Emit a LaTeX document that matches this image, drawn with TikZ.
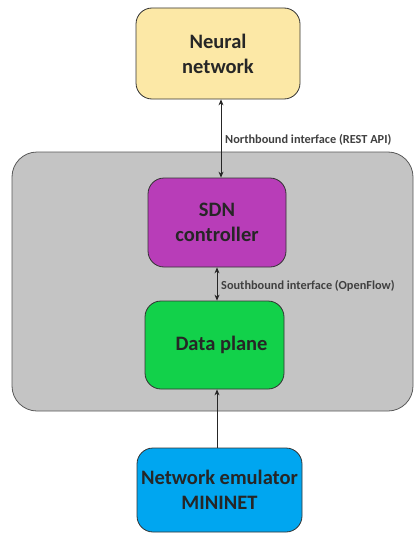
\documentclass[tikz,border=0pt]{standalone}
\usepackage{fontspec}
\setmainfont{Carlito}
\usetikzlibrary{arrows.meta}

\definecolor{nnyellow}{HTML}{FCE8A6}
\definecolor{sdnpurple}{HTML}{B83DB8}
\definecolor{dpgreen}{HTML}{12D14A}
\definecolor{emublue}{HTML}{00A6F0}
\definecolor{boxgray}{HTML}{C4C4C4}
\definecolor{edgegray}{HTML}{595959}

\begin{document}
\begin{tikzpicture}[x=1pt,y=-1pt,
    block/.style={draw=black!80, line width=0.8pt, rounded corners=16pt, align=center,
      font=\fontsize{20.5}{25}\selectfont\bfseries, text=black!85, inner sep=0pt},
    iface/.style={font=\fontsize{12.3}{14}\selectfont\bfseries, text=black!75, anchor=west, inner sep=0pt},
    link/.style={line width=0.8pt, black!85},
    twoway/.style={link, {Stealth[length=6pt,width=5pt]}-{Stealth[length=6pt,width=5pt]}},
    oneway/.style={link, -{Stealth[length=6pt,width=5pt]}}]
        \useasboundingbox (0,0) rectangle (414,535);

        % 灰色背景框
        \draw[fill=boxgray, draw=edgegray, line width=0.8pt, rounded corners=25pt] (12,152) rectangle (413,411);

        % 绘制模块
        \node[block, fill=nnyellow, minimum width=164pt, minimum height=91pt] (neural) at (218,53.5) {Neural\\network};
        \node[block, fill=sdnpurple, minimum width=138pt, minimum height=89pt] (sdn) at (217,222.5) {SDN\\controller};
        \node[block, fill=dpgreen, minimum width=139pt, minimum height=88pt] (data) at (214.5,345) {\hspace*{14pt}Data plane};
        \node[block, fill=emublue, minimum width=165pt, minimum height=84pt] (emu) at (219.5,490) {Network emulator\\MININET};

        % 绘制接口连线
        \draw[twoway] ([xshift=3pt]neural.south) -- ([xshift=4pt]sdn.north);
        \draw[twoway] (sdn.south) -- ([xshift=2.5pt]data.north);
        \draw[oneway] ([xshift=-2.5pt]emu.north) -- ([xshift=2.5pt]data.south);

        % 标注接口
        \node[iface] (north) at (225,140) {Northbound interface (REST API)};
        \node[iface] (south) at (221,286) {Southbound interface (OpenFlow)};
      \end{tikzpicture}
\end{document}
